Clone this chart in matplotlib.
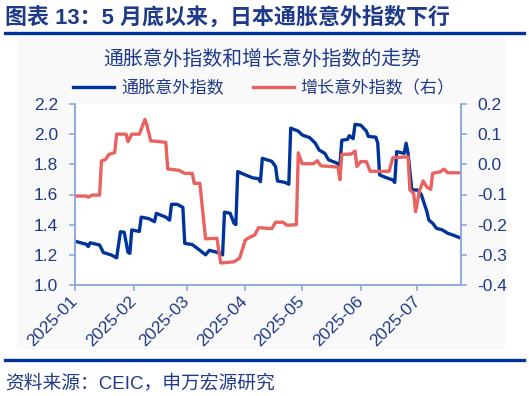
import matplotlib
matplotlib.use("Agg")
import matplotlib.pyplot as plt
import matplotlib.dates as mdates
import pandas as pd
from matplotlib.patches import Rectangle
from matplotlib.lines import Line2D

plt.rcParams['font.family'] = ['Liberation Sans', 'Noto Sans CJK SC', 'DejaVu Sans']

# 通胀意外指数 (left axis), breakpoints
infl_dates = ["2025-01-01", "2025-01-07", "2025-01-08", "2025-01-09", "2025-01-14",
              "2025-01-16", "2025-01-20", "2025-01-23", "2025-01-25", "2025-01-27",
              "2025-01-29", "2025-01-30", "2025-01-31", "2025-02-04", "2025-02-05",
              "2025-02-09", "2025-02-12", "2025-02-13", "2025-02-18", "2025-02-20",
              "2025-02-21", "2025-02-24", "2025-02-27", "2025-02-28", "2025-03-04",
              "2025-03-08", "2025-03-11", "2025-03-13", "2025-03-17", "2025-03-20",
              "2025-03-21", "2025-03-24", "2025-03-26", "2025-03-27", "2025-03-28",
              "2025-04-01", "2025-04-05", "2025-04-08", "2025-04-09", "2025-04-10",
              "2025-04-15", "2025-04-17", "2025-04-18", "2025-04-22", "2025-04-24",
              "2025-04-25", "2025-04-29", "2025-05-01", "2025-05-05", "2025-05-08",
              "2025-05-10", "2025-05-13", "2025-05-15", "2025-05-19", "2025-05-21",
              "2025-05-22", "2025-05-25", "2025-05-26", "2025-05-28", "2025-05-29",
              "2025-06-01", "2025-06-04", "2025-06-05", "2025-06-09", "2025-06-10",
              "2025-06-11", "2025-06-14", "2025-06-18", "2025-06-19", "2025-06-20",
              "2025-06-24", "2025-06-25", "2025-06-26", "2025-06-28", "2025-07-01",
              "2025-07-03", "2025-07-06", "2025-07-07", "2025-07-09", "2025-07-11",
              "2025-07-14", "2025-07-17", "2025-07-20", "2025-07-24"]
infl_vals = [1.29, 1.27, 1.255, 1.28, 1.265,
             1.215, 1.20, 1.18, 1.353, 1.35,
             1.217, 1.21, 1.365, 1.355, 1.45,
             1.44, 1.42, 1.475, 1.45, 1.43,
             1.535, 1.535, 1.515, 1.276, 1.268,
             1.23, 1.20, 1.23, 1.217, 1.20,
             1.483, 1.475, 1.41, 1.40, 1.752,
             1.73, 1.71, 1.705, 1.685, 1.84,
             1.82, 1.785, 1.69, 1.68, 1.668,
             2.04, 2.02, 1.995, 1.977, 1.94,
             1.895, 1.873, 1.83, 1.81, 1.795,
             1.96, 1.965, 1.99, 1.97, 2.065,
             2.06, 2.02, 1.985, 1.98, 1.94,
             1.73, 1.714, 1.696, 1.68, 1.884,
             1.873, 1.94, 1.875, 1.63, 1.63,
             1.60, 1.486, 1.43, 1.41, 1.376,
             1.366, 1.343, 1.33, 1.31]

# 增长意外指数 (right axis)
grow_dates = ["2025-01-01", "2025-01-07", "2025-01-08", "2025-01-10", "2025-01-14",
              "2025-01-15", "2025-01-17", "2025-01-19", "2025-01-22", "2025-01-23",
              "2025-01-28", "2025-01-29", "2025-01-31", "2025-02-04", "2025-02-05",
              "2025-02-07", "2025-02-08", "2025-02-10", "2025-02-18", "2025-02-19",
              "2025-02-25", "2025-02-28", "2025-03-04", "2025-03-05", "2025-03-08",
              "2025-03-11", "2025-03-17", "2025-03-19", "2025-03-26", "2025-03-29",
              "2025-04-01", "2025-04-03", "2025-04-06", "2025-04-08", "2025-04-15",
              "2025-04-17", "2025-04-21", "2025-04-23", "2025-04-28", "2025-04-29",
              "2025-05-01", "2025-05-07", "2025-05-09", "2025-05-11", "2025-05-20",
              "2025-05-21", "2025-05-22", "2025-05-27", "2025-05-29", "2025-05-30",
              "2025-06-01", "2025-06-04", "2025-06-06", "2025-06-16", "2025-06-18",
              "2025-06-26", "2025-06-27", "2025-06-29", "2025-06-30", "2025-07-02",
              "2025-07-04", "2025-07-06", "2025-07-08", "2025-07-09", "2025-07-13",
              "2025-07-15", "2025-07-17", "2025-07-24"]
grow_vals = [-0.105, -0.105, -0.109, -0.102, -0.102,
             0.012, 0.015, 0.033, 0.039, 0.100,
             0.100, 0.075, 0.100, 0.100, 0.116,
             0.149, 0.130, 0.078, 0.073, -0.015,
             -0.020, -0.030, -0.030, -0.063, -0.063,
             -0.247, -0.245, -0.327, -0.323, -0.311,
             -0.251, -0.243, -0.234, -0.210, -0.213,
             -0.192, -0.192, -0.202, -0.200, 0.038,
             0.002, 0.002, 0.012, -0.005, -0.009,
             -0.051, 0.033, 0.034, 0.044, -0.007,
             0.009, 0.009, -0.023, -0.023, 0.022,
             0.025, -0.085, -0.096, -0.157, -0.090,
             -0.055, -0.076, -0.083, -0.030, -0.025,
             -0.016, -0.028, -0.028]

left_ticks = [1.0, 1.2, 1.4, 1.6, 1.8, 2.0, 2.2]
right_ticks = [-0.4, -0.3, -0.2, -0.1, 0.0, 0.1, 0.2]

BLUE = '#00349A'
RED = '#E8625F'
SPINE = '#8FAADC'
TXT = '#1F3A8A'

W, H = 529, 396
fig = plt.figure(figsize=(W / 100, H / 100), dpi=100)
fig.patch.set_facecolor('white')

# light panel behind the chart
fig.patches.append(Rectangle((17 / W, 1 - 350 / H), 488 / W, 313 / H,
                             transform=fig.transFigure, facecolor='#F9F9F9',
                             edgecolor='none', zorder=-5))

# header and rules
fig.text(5 / W, 1 - 18 / H, "图表 13：5 月底以来，日本通胀意外指数下行",
         fontsize=15.8, fontweight='bold', color=TXT, va='center', ha='left')
fig.add_artist(Line2D([5 / W, 524 / W], [1 - 33 / H, 1 - 33 / H],
                      transform=fig.transFigure, color='#003399', lw=2.4))
fig.add_artist(Line2D([5 / W, 524 / W], [1 - 360 / H, 1 - 360 / H],
                      transform=fig.transFigure, color='#003399', lw=2.4))
fig.text(5 / W, 1 - 383 / H, "资料来源：CEIC，申万宏源研究",
         fontsize=13.5, color=TXT, va='center', ha='left')

fig.text(262 / W, 1 - 60 / H, "通胀意外指数和增长意外指数的走势",
         fontsize=14.3, color=TXT, va='center', ha='center')

ax = fig.add_axes([75 / W, 1 - 285 / H, 386 / W, 181 / H])
ax2 = ax.twinx()

x1 = pd.to_datetime(infl_dates)
x2 = pd.to_datetime(grow_dates)
ax.plot(x1, infl_vals, color=BLUE, lw=2.4, solid_joinstyle='round')
ax2.plot(x2, grow_vals, color=RED, lw=2.4, solid_joinstyle='round')

ax.set_xlim(pd.Timestamp("2025-01-01"), pd.Timestamp("2025-07-24"))
ax.set_ylim(1.0, 2.2)
ax2.set_ylim(-0.4, 0.2)
ax.set_yticks(left_ticks)
ax2.set_yticks(right_ticks)
ax.yaxis.set_major_formatter(plt.FuncFormatter(lambda v, p: f"{v:.1f}"))
ax2.yaxis.set_major_formatter(plt.FuncFormatter(lambda v, p: f"{v:.1f}"))
ax.xaxis.set_major_locator(mdates.MonthLocator())
ax.xaxis.set_major_formatter(mdates.DateFormatter('%Y-%m'))

for a in (ax, ax2):
    for s in a.spines.values():
        s.set_color(SPINE)
        s.set_linewidth(1.2)
    a.spines['top'].set_visible(False)
    a.tick_params(colors=SPINE, labelcolor=TXT, labelsize=12.5, length=4, width=1.2)
ax.tick_params(axis='y', pad=8)
ax2.tick_params(axis='y', pad=8)
ax.tick_params(axis='x', pad=6)

plt.setp(ax.get_xticklabels(), rotation=45, ha='right', va='center',
         rotation_mode='anchor')

handles = [Line2D([], [], color=BLUE, lw=2.4), Line2D([], [], color=RED, lw=2.4)]
fig.legend(handles, ["通胀意外指数", "增长意外指数（右）"], loc='center',
           bbox_to_anchor=(264 / W, 1 - 88 / H), ncol=2, frameon=False,
           fontsize=12.3, labelcolor=TXT, handlelength=2.4, columnspacing=1.7,
           handletextpad=0.4)

fig.savefig("out.png", dpi=100)
